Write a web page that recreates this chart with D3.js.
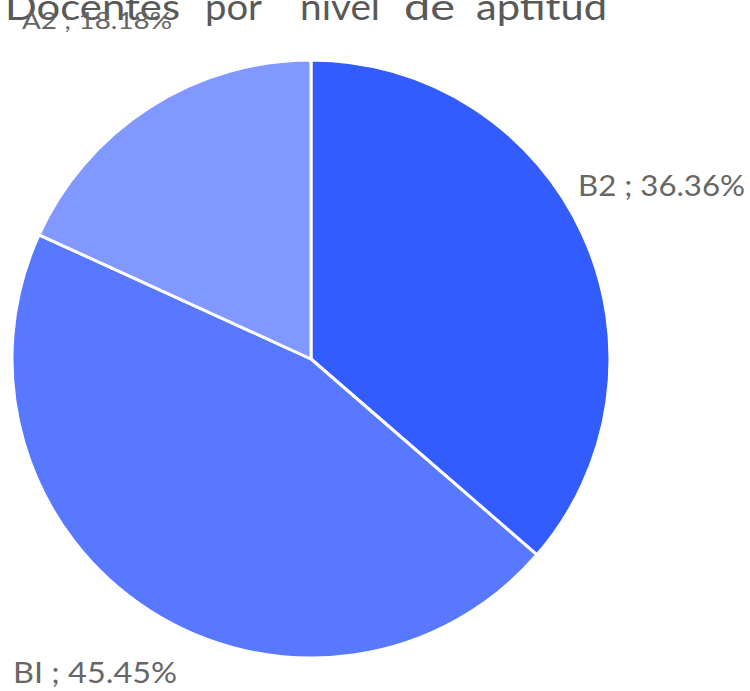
<!DOCTYPE html>
<html><head><meta charset="utf-8">
<script src="https://cdn.jsdelivr.net/npm/d3@7"></script>
<style>html,body{margin:0;padding:0;background:#fff;overflow:hidden}</style>
</head><body>
<svg id="c" width="750" height="691"></svg>
<script>
const categories = ["B2", "B1", "A2"];
const values = [36.36, 45.45, 18.18];
const labels = ["B2 ; 36.36%", "BI ; 45.45%", "A2 ; 18.18%"];
const colors = ["#335cff", "#5878ff", "#8098ff"];
const titleWords = ["Docentes", "por", "nivel", "de", "aptitud"];

const svg = d3.select("#c");
const cx = 311, cy = 359, r = 299;
const pie = d3.pie().sort(null).value(d => d.v);
const data = pie(categories.map((c, i) => ({c, v: values[i], l: labels[i], col: colors[i]})));
const arc = d3.arc().innerRadius(0).outerRadius(r);
const g = svg.append("g").attr("transform", `translate(${cx},${cy})`);
g.selectAll("path").data(data).join("path")
  .attr("d", arc).attr("fill", d => d.data.col)
  .attr("stroke", "#fff").attr("stroke-width", 3).attr("stroke-linejoin", "round");

// title, words spread as in the reference
const wordPos = [[5, 175], [205, 57], [300, 80], [404, 51], [476, 131]];
const t = svg.append("text").attr("y", 20)
  .attr("font-family", "Lato, 'Noto Sans', sans-serif").attr("font-size", 37)
  .attr("fill", "#595959");
t.selectAll("tspan").data(titleWords).join("tspan")
  .attr("x", (d, i) => wordPos[i][0]).attr("textLength", (d, i) => wordPos[i][1])
  .attr("lengthAdjust", "spacingAndGlyphs").text(d => d);

const pos = [[578, 196, 167, 29], [13, 683, 164, 29], [22, 29, 150, 24]];
svg.selectAll("text.lab").data(data).join("text").attr("class", "lab")
  .attr("x", (d, i) => pos[i][0]).attr("y", (d, i) => pos[i][1])
  .attr("textLength", (d, i) => pos[i][2]).attr("lengthAdjust", "spacingAndGlyphs")
  .attr("font-family", "Lato, 'Noto Sans', sans-serif").attr("font-size", (d, i) => pos[i][3])
  .attr("fill", "#666").text(d => d.data.l);
</script>
</body></html>
